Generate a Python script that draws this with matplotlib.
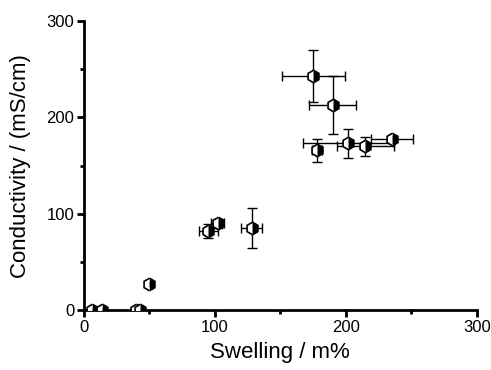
import matplotlib
matplotlib.use("Agg")
import matplotlib.pyplot as plt
from matplotlib.ticker import MultipleLocator

plt.rcParams['font.family'] = ['Liberation Sans', 'DejaVu Sans']

swelling = [175, 190, 178, 202, 215, 235, 95, 102, 128, 50, 6, 14, 40, 43]
swelling_err = [24, 18, 4, 35, 22, 16, 7, 5, 8, 2, 1, 1, 1, 1]
conductivity = [243, 213, 166, 173, 170, 178, 82, 90, 85, 27, 0.5, 0.5, 0.5, 0.5]
conductivity_err = [27, 30, 12, 15, 10, 3, 7, 5, 21, 2, 0.3, 0.3, 0.3, 0.3]

fig = plt.figure(figsize=(4.91, 3.70), dpi=100)
ax = fig.add_axes([0.171, 0.162, 0.800, 0.781])

ax.errorbar(swelling, conductivity, xerr=swelling_err, yerr=conductivity_err,
            fmt='none', ecolor='black', elinewidth=1.0, capsize=3.5, capthick=1.0,
            zorder=2)
ax.plot(swelling, conductivity, linestyle='none', marker='h', markersize=9,
        fillstyle='right', markerfacecolor='black', markerfacecoloralt='white',
        markeredgecolor='black', markeredgewidth=1.2, zorder=3, clip_on=True)

ax.set_xlim(0, 300)
ax.set_ylim(0, 300)
ax.xaxis.set_major_locator(MultipleLocator(100))
ax.xaxis.set_minor_locator(MultipleLocator(50))
ax.yaxis.set_major_locator(MultipleLocator(100))
ax.yaxis.set_minor_locator(MultipleLocator(50))

for s in ['top', 'right']:
    ax.spines[s].set_visible(False)
for s in ['left', 'bottom']:
    ax.spines[s].set_linewidth(2)

ax.tick_params(which='major', direction='out', length=5, width=2, labelsize=12, pad=2)
ax.tick_params(which='minor', direction='out', length=3, width=2)

ax.set_xlabel('Swelling / m%', fontsize=16, labelpad=5)
ax.set_ylabel('Conductivity / (mS/cm)', fontsize=16, labelpad=11)

fig.savefig('out.png', dpi=100)
